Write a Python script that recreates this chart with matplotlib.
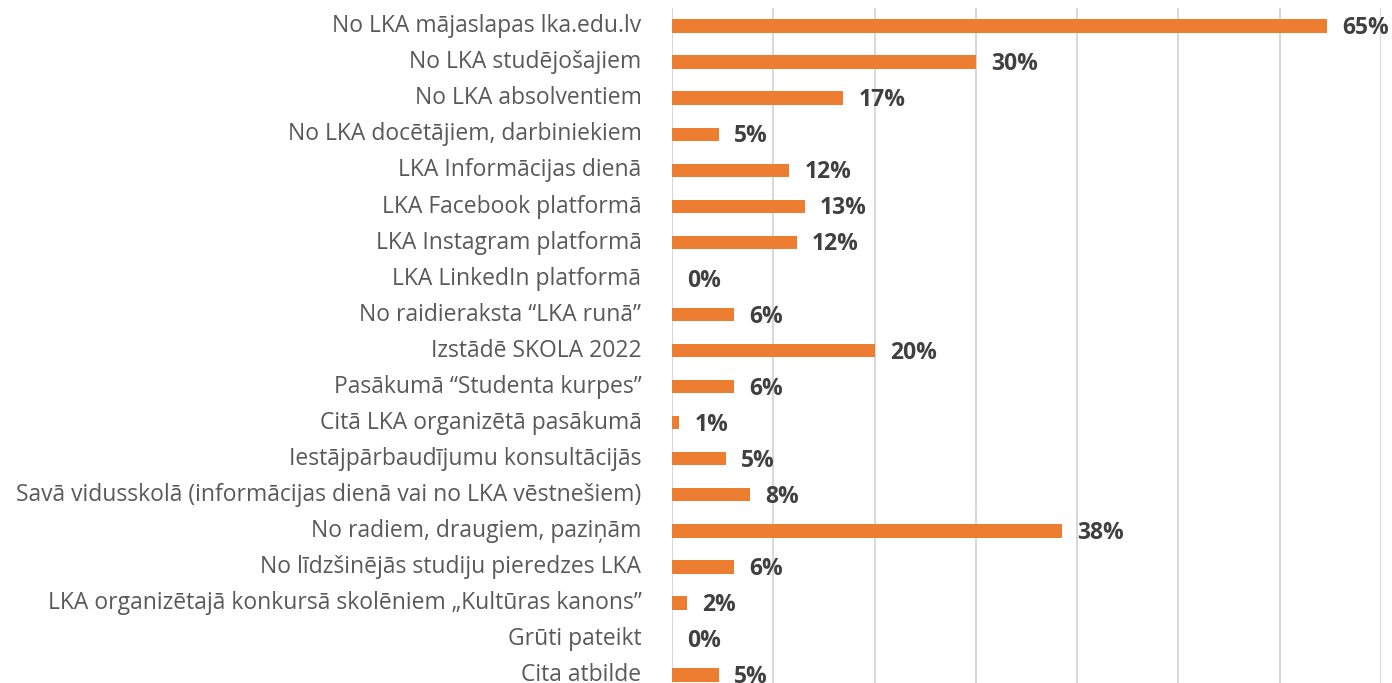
import matplotlib
matplotlib.use("Agg")
from matplotlib import pyplot as plt
from matplotlib.transforms import ScaledTranslation

plt.rcParams['font.family'] = ['Open Sans', 'DejaVu Sans']

answers = [
    'No LKA mājaslapas lka.edu.lv',
    'No LKA studējošajiem',
    'No LKA absolventiem',
    'No LKA docētājiem, darbiniekiem',
    'LKA Informācijas dienā',
    'LKA Facebook platformā',
    'LKA Instagram platformā',
    'LKA LinkedIn platformā',
    'No raidieraksta \u201cLKA runā\u201d',
    'Izstādē SKOLA 2022',
    'Pasākumā \u201cStudenta kurpes\u201d',
    'Citā LKA organizētā pasākumā',
    'Iestājpārbaudījumu konsultācijās',
    'Savā vidusskolā (informācijas dienā vai no LKA vēstnešiem)',
    'No radiem, draugiem, paziņām',
    'No līdzšinējās studiju pieredzes LKA',
    'LKA organizētajā konkursā skolēniem \u201eKultūras kanons\u201d',
    'Grūti pateikt',
    'Cita atbilde',
]
# bar lengths in %
shares = [64.7, 30.0, 16.9, 4.6, 11.6, 13.1, 12.3, 0.0, 6.1, 20.0,
          6.1, 0.7, 5.3, 7.7, 38.5, 6.1, 1.5, 0.0, 4.6]
# rounded labels printed next to the bars
shown = [65, 30, 17, 5, 12, 13, 12, 0, 6, 20, 6, 1, 5, 8, 38, 6, 2, 0, 5]

fig = plt.figure(figsize=(13.92, 6.83), dpi=100)
ax = fig.add_axes([672/1392, 0, (1381-672)/1392, 675/683])

ypos = list(range(len(answers)))
ax.barh(ypos, shares, height=0.37, color='#ED7D31', zorder=3)

for y, v, s in zip(ypos, shares, shown):
    ax.annotate(f'{s}%', (v, y), xytext=(11, -1.5), textcoords='offset points',
                ha='left', va='center', fontsize=16.5, fontweight='bold',
                color='#404040')

ax.set_xlim(0, 70)
ax.set_ylim(18.22, -0.5)
ax.set_xticks(range(0, 71, 10))
ax.xaxis.grid(True, color='#d9d9d9', linewidth=1.5, zorder=0)
ax.tick_params(axis='x', which='both', length=0, labelbottom=False)
ax.set_yticks(ypos)
ax.set_yticklabels(answers, fontsize=16.5, color='#595959')
ax.tick_params(axis='y', length=0, pad=22)
# lift the category labels a touch so the last one is not clipped
shift = ScaledTranslation(0, 2/72, fig.dpi_scale_trans)
for lab in ax.get_yticklabels():
    lab.set_transform(lab.get_transform() + shift)
for sp in ax.spines.values():
    sp.set_visible(False)

plt.savefig("out.png", dpi=100)
